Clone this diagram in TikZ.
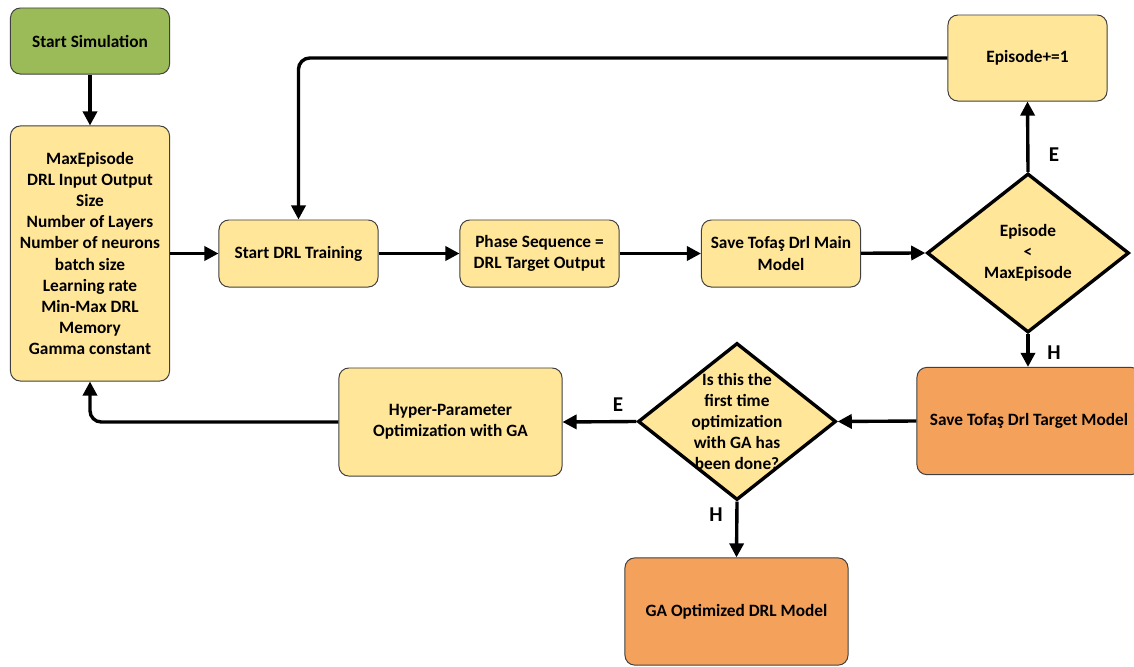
\documentclass[tikz,border=0pt]{standalone}
\usepackage{fontspec}
\setmainfont{Carlito}
\usetikzlibrary{arrows.meta,shapes.geometric}

\definecolor{startgreen}{RGB}{155,187,89}
\definecolor{stepyellow}{RGB}{255,230,153}
\definecolor{modelorange}{RGB}{244,161,92}

\begin{document}
\begin{tikzpicture}[
                x=0.025cm, y=-0.025cm,
                box/.style={
                    draw=black!75,
                    fill=stepyellow,
                    rectangle,
                    line width=0.7pt,
                    rounded corners=7pt,
                    minimum width=3.975cm,
                    minimum height=1.675cm,
                    align=center,
                    font=\fontsize{12.3}{15}\selectfont\bfseries
                },
                startbox/.style={
                    box,
                    fill=startgreen
                },
                modelbox/.style={
                    box,
                    fill=modelorange,
                    minimum width=5.6cm,
                    minimum height=2.68cm
                },
                decision/.style={
                    diamond,
                    draw=black,
                    fill=stepyellow,
                    line width=2.4pt,
                    inner sep=0pt,
                    align=center
                },
                decisiontext/.style={
                    align=center,
                    font=\fontsize{12.3}{15}\selectfont\bfseries
                },
                flowlabel/.style={
                    font=\fontsize{15}{18}\selectfont\bfseries
                },
                arrow/.style={
                    -{Triangle[length=10pt,width=10pt]},
                    line width=2.4pt
                }
            ]
                \useasboundingbox (0,0) rectangle (1134,666);

                \node[startbox] (start) at (90,41) [minimum height=1.65cm] {Start Simulation};
                \node[box] (params) at (90,253.5) [minimum height=6.375cm]
                    {MaxEpisode\\DRL Input Output\\Size\\Number of Layers\\Number of neurons\\batch size\\Learning rate\\Min-Max DRL\\Memory\\Gamma constant};
                \node[box] (train) at (298.5,253.5) {Start DRL Training};
                \node[box] (phase) at (539.5,253.5) {Phase Sequence =\\DRL Target Output};
                \node[box] (savemain) at (781,253.5) {Save Tofaş Drl Main\\Model};
                \node[decision, minimum width=5.05cm, minimum height=3.975cm] (check) at (1028,253) {};
                \node[decisiontext] at (check) {Episode\\<\\MaxEpisode};
                \node[box] (episode) at (1027.5,58) [minimum height=2.15cm] {Episode+=1};
                \node[modelbox] (savetarget) at (1029,421) {Save Tofaş Drl Target Model};
                \node[decision, minimum width=4.95cm, minimum height=3.925cm] (firsttime) at (737,421.5) {};
                \node[decisiontext] at (firsttime)
                    {Is this the\\first time\\optimization\\with GA has\\been done?};
                \node[box] (hyper) at (450.5,422) [minimum width=5.575cm, minimum height=2.7cm] {Hyper-Parameter\\Optimization with GA};
                \node[modelbox] (gaopt) at (736.5,611.5) [minimum width=5.575cm] {GA Optimized DRL Model};

                \draw[arrow] (start) -- (params);
                \draw[arrow] (params.east |- train) -- (train);
                \draw[arrow] (train) -- (phase);
                \draw[arrow] (phase) -- (savemain);
                \draw[arrow] (savemain) -- (check.west);
                \draw[arrow] (check.north) -- (episode.south);
                \draw[arrow, rounded corners=8pt] (episode.west) -| (train.north);
                \draw[arrow] (check.south) -- (savetarget.north -| check.south);
                \draw[arrow] (savetarget.west) -- (firsttime.east);
                \draw[arrow] (firsttime.west) -- (hyper.east);
                \draw[arrow] (firsttime.south) -- (gaopt.north);
                \draw[arrow, rounded corners=8pt] (hyper.west) -| (params.south);

                \node[flowlabel] (e1) at (1054,155) {E};
                \node[flowlabel] (h1) at (1054,353) {H};
                \node[flowlabel] (e2) at (618,405) {E};
                \node[flowlabel] (h2) at (716,515) {H};
\end{tikzpicture}
\end{document}
